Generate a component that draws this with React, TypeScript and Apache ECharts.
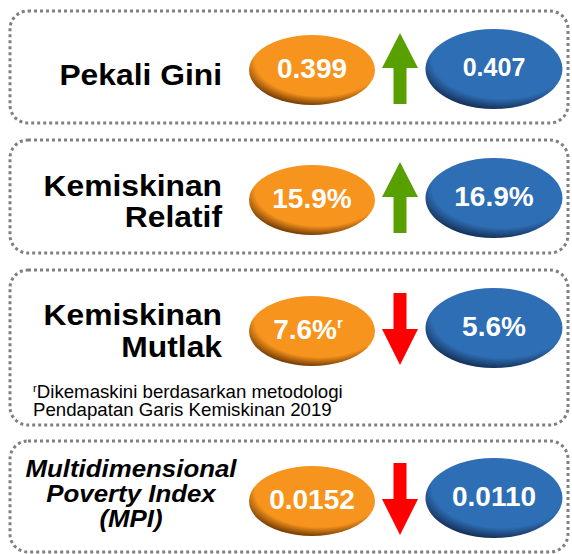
import React, { useEffect, useRef } from "react";
import * as echarts from "echarts";

// ---- data ----
const indicators: string[] = [
  "Pekali Gini",
  "Kemiskinan\nRelatif",
  "Kemiskinan\nMutlak",
  "Multidimensional\nPoverty Index\n(MPI)",
];
const previousValues: number[] = [0.399, 15.9, 7.6, 0.0152];
const currentValues: number[] = [0.407, 16.9, 5.6, 0.011];
const valueFormats: string[] = ["decimal3", "percent1", "percent1", "decimal4"];
const revisedPrevious: boolean[] = [false, false, true, false];
const footnoteLines: string[] = [
  "Dikemaskini berdasarkan metodologi",
  "Pendapatan Garis Kemiskinan 2019",
];
const revisionMark = "r";

// ---- layout / style ----
const FONT = "Liberation Sans, Arial, Helvetica, sans-serif";
const boxes = [
  [11, 123],
  [140, 253],
  [270, 425],
  [441, 552],
];
const ovalPrevCy = [70, 200, 331, 501];
const ovalCurrCy = [69, 198, 328, 498];
const prevFont = [28, 28, 28, 28];
const currFont = [25, 28, 28, 28];
const labelY = [75, 201, 331, 494];
const labelLineHeight = [30, 31, 32, 25];

const ORANGE = "#F7941D";
const ORANGE_DARK = "#7A4006";
const BLUE = "#2E6EB5";
const BLUE_DARK = "#16345C";
const GREEN = "#58A000";
const RED = "#FF0000";

function fmt(v: number, f: string): string {
  if (f === "decimal3") return v.toFixed(3);
  if (f === "decimal4") return v.toFixed(4);
  if (f === "percent1") return v.toFixed(1) + "%";
  return String(v);
}

function oval(cx: number, cy: number, rx: number, ry: number, main: string, dark: string) {
  return {
    type: "circle",
    x: cx,
    y: cy,
    scaleX: rx / ry,
    scaleY: 1,
    shape: { cx: 0, cy: 0, r: ry },
    style: {
      fill: new echarts.graphic.RadialGradient(0.56, 0.36, 0.64, [
        { offset: 0, color: main },
        { offset: 0.8, color: main },
        { offset: 1, color: dark },
      ]),
    },
    silent: true,
  };
}

function arrow(cx: number, cy: number, up: boolean, color: string) {
  const sw = 6.5;
  const hw = 18;
  let pts: number[][];
  if (up) {
    const tip = cy - 36;
    const base = cy - 1;
    const end = cy + 35;
    pts = [
      [cx, tip],
      [cx + hw, base],
      [cx + sw, base],
      [cx + sw, end],
      [cx - sw, end],
      [cx - sw, base],
      [cx - hw, base],
    ];
  } else {
    const top = cy - 35;
    const base = cy + 1;
    const tip = cy + 37;
    pts = [
      [cx - sw, top],
      [cx + sw, top],
      [cx + sw, base],
      [cx + hw, base],
      [cx, tip],
      [cx - hw, base],
      [cx - sw, base],
    ];
  }
  return { type: "polygon", shape: { points: pts }, style: { fill: color }, silent: true };
}

export default function App() {
  const ref = useRef<HTMLDivElement>(null);
  useEffect(() => {
    document.body.style.margin = "0";
    document.body.style.overflow = "hidden";
    if (!ref.current) return;
    const chart = echarts.init(ref.current, undefined, { renderer: "svg" });
    const elements: any[] = [];

    indicators.forEach((name, i) => {
      const [y0, y1] = boxes[i];
      elements.push({
        type: "rect",
        shape: { x: 10, y: y0, width: 558, height: y1 - y0, r: 18 },
        style: { fill: "none", stroke: "#808080", lineWidth: 3, lineDash: [3, 3] },
        silent: true,
      });

      const isMpi = i === 3;
      elements.push({
        type: "text",
        x: isMpi ? 131 : 222,
        y: labelY[i],
        scaleX: isMpi ? 1.1 : 1.06,
        style: {
          text: name,
          fill: "#000",
          fontFamily: FONT,
          fontWeight: "bold",
          fontStyle: isMpi ? "italic" : "normal",
          fontSize: isMpi ? 23.5 : 30,
          lineHeight: labelLineHeight[i],
          align: isMpi ? "center" : "right",
          verticalAlign: "middle",
        },
        silent: true,
      });

      // previous value oval
      elements.push(oval(312, ovalPrevCy[i], 63, 35, ORANGE, ORANGE_DARK));
      const prevTxt = fmt(previousValues[i], valueFormats[i]);
      elements.push({
        type: "text",
        x: revisedPrevious[i] ? 308 : 312,
        y: ovalPrevCy[i] - 2,
        style: {
          text: revisedPrevious[i] ? `{v|${prevTxt}}{s|${revisionMark}}` : prevTxt,
          fill: "#fff",
          fontFamily: FONT,
          fontWeight: "bold",
          fontSize: prevFont[i],
          align: "center",
          verticalAlign: "middle",
          rich: revisedPrevious[i]
            ? {
                v: { fontFamily: FONT, fontWeight: "bold", fontSize: prevFont[i], fill: "#fff", lineHeight: 28 },
                s: { fontFamily: FONT, fontWeight: "bold", fontSize: 15, fill: "#fff", verticalAlign: "top", lineHeight: 15 },
              }
            : undefined,
        },
        silent: true,
      });

      // arrow
      const up = currentValues[i] > previousValues[i];
      elements.push(arrow(400, ovalCurrCy[i], up, up ? GREEN : RED));

      // current value oval
      elements.push(oval(494, ovalCurrCy[i], 68.5, 40, BLUE, BLUE_DARK));
      elements.push({
        type: "text",
        x: 494,
        y: ovalCurrCy[i] - 2,
        style: {
          text: fmt(currentValues[i], valueFormats[i]),
          fill: "#fff",
          fontFamily: FONT,
          fontWeight: "bold",
          fontSize: currFont[i],
          align: "center",
          verticalAlign: "middle",
        },
        silent: true,
      });
    });

    elements.push({
      type: "text",
      x: 33,
      y: 383,
      scaleX: 1.037,
      style: {
        text: `{s|${revisionMark}}{t|${footnoteLines[0]}}\n{t|${footnoteLines[1]}}`,
        fill: "#000",
        fontFamily: FONT,
        fontSize: 18,
        align: "left",
        verticalAlign: "top",
        rich: {
          t: { fontFamily: FONT, fontSize: 18, lineHeight: 18, fill: "#000" },
          s: { fontFamily: FONT, fontSize: 11, lineHeight: 11, fill: "#000", verticalAlign: "top" },
        },
      },
      silent: true,
    });

    chart.setOption({
      animation: false,
      backgroundColor: "#ffffff",
      graphic: { elements },
    });
    return () => chart.dispose();
  }, []);
  return <div ref={ref} style={{ width: 572, height: 554 }} />;
}
